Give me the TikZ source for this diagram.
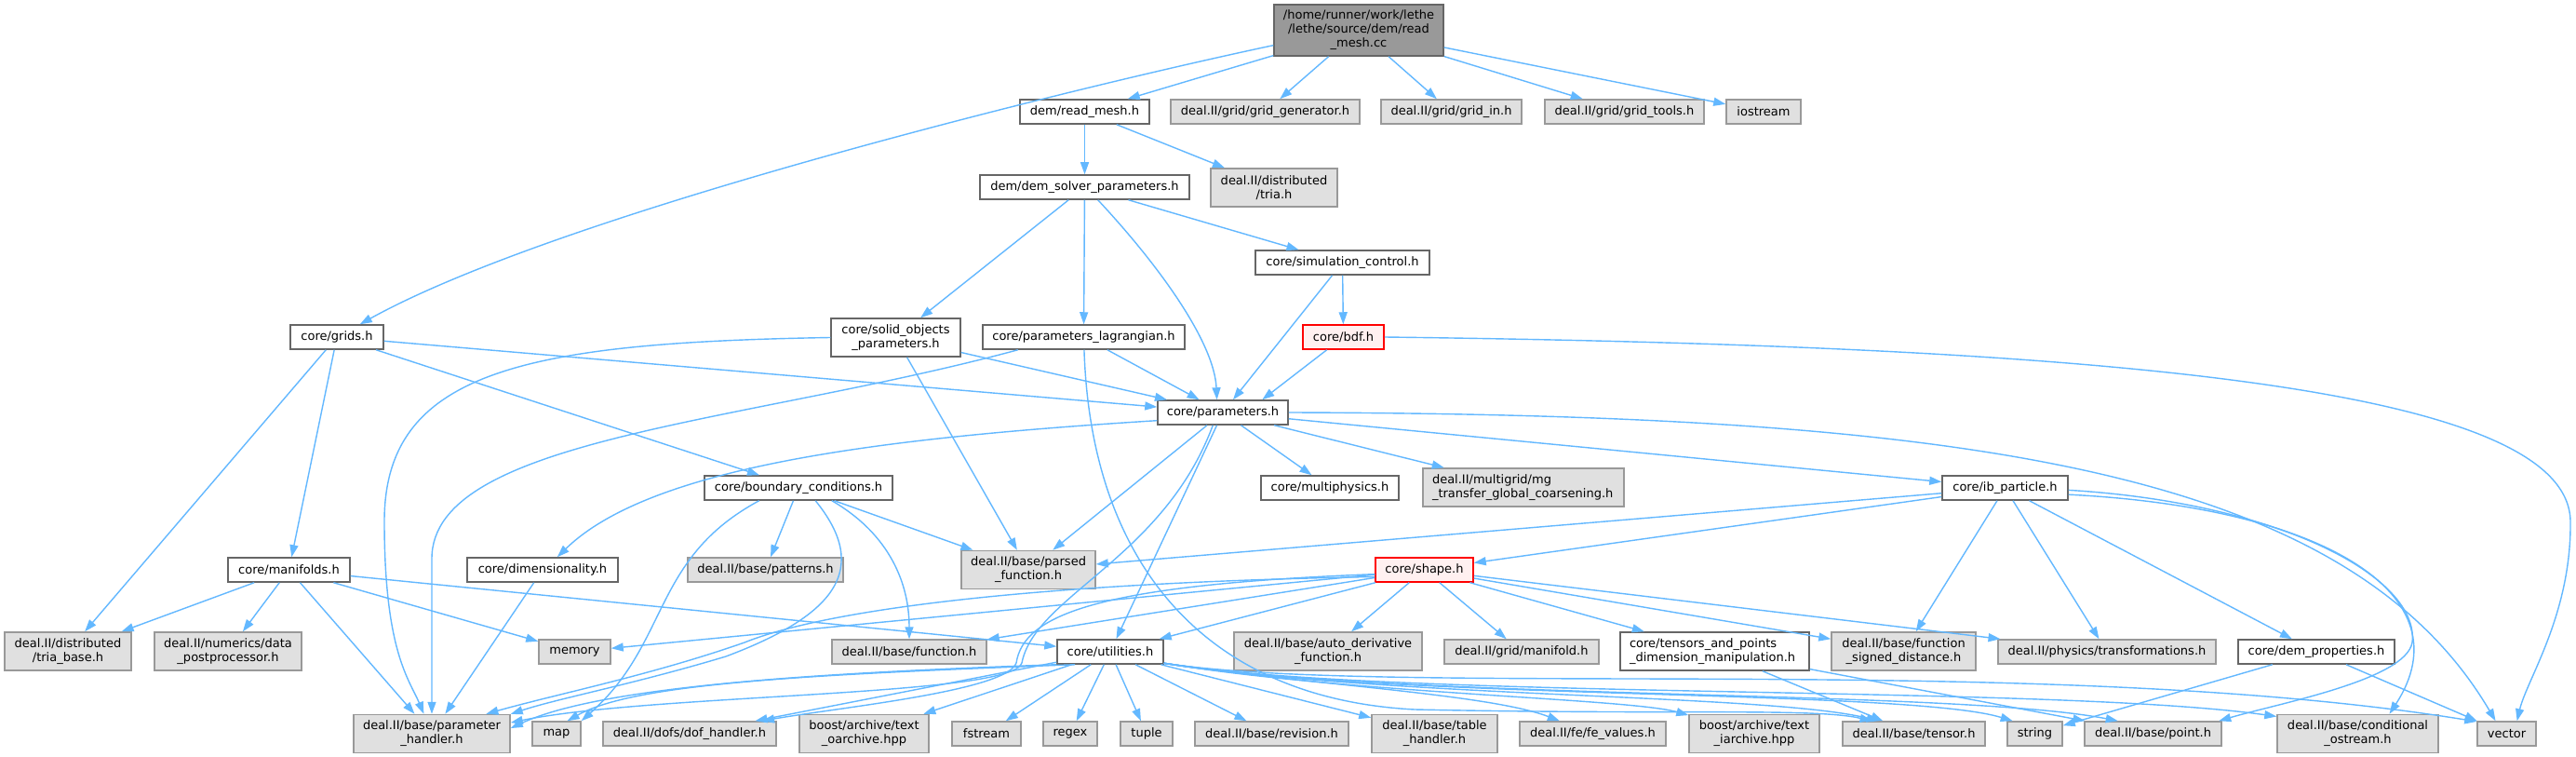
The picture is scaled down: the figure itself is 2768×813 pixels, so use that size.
\documentclass[tikz,border=0pt]{standalone}
\usepackage{fontspec}
\setmainfont{DejaVu Sans}
\usetikzlibrary{arrows.meta}
\definecolor{edgeblue}{HTML}{63B8FF}
\definecolor{gfill}{HTML}{E0E0E0}
\definecolor{gdraw}{HTML}{999999}
\definecolor{wdraw}{HTML}{666666}
\definecolor{rootfill}{HTML}{999999}
\definecolor{redfill}{HTML}{FFF0F0}
\begin{document}
\begin{tikzpicture}[x=1pt,y=-1pt,
  base/.style={rectangle, inner sep=0pt, line width=1.5pt, align=center,
     font=\fontsize{13}{15}\selectfont, minimum height=26pt},
  wbox/.style={base, fill=white, draw=wdraw},
  gbox/.style={base, fill=gfill, draw=gdraw},
  rbox/.style={base, fill=redfill, draw=red},
  rootbox/.style={base, fill=rootfill, draw=wdraw},
  two/.style={minimum height=41pt},
  edge/.style={draw=edgeblue, line width=1.4pt, -{Triangle[length=13pt,width=9pt]}}]
\fill[white] (0,0) rectangle (2768,813);
\useasboundingbox (0,0) rectangle (2768,813);

% row 0
\node[rootbox, minimum width=182pt, minimum height=55pt] (root) at (1460,32.5) {/home/runner/work/lethe\\/lethe/source/dem/read\\\_mesh.cc};
% row 1
\node[wbox, minimum width=139pt] (readmesh) at (1165.5,120) {dem/read\_mesh.h};
\node[gbox, minimum width=203pt] (gridgen) at (1359.5,120) {deal.II/grid/grid\_generator.h};
\node[gbox, minimum width=151pt] (gridin) at (1559.5,120) {deal.II/grid/grid\_in.h};
\node[gbox, minimum width=171pt] (gridtools) at (1745.5,120) {deal.II/grid/grid\_tools.h};
\node[gbox, minimum width=80pt] (iostream) at (1895,120) {iostream};
% row 2
\node[wbox, minimum width=225pt] (demsolver) at (1165.5,201) {dem/dem\_solver\_parameters.h};
\node[gbox, two, minimum width=136pt] (tria) at (1369,201.5) {deal.II/distributed\\/tria.h};
% row 3
\node[wbox, minimum width=187pt] (simctrl) at (1442.5,282) {core/simulation\_control.h};
% row 4
\node[wbox, minimum width=100pt] (grids) at (362,362) {core/grids.h};
\node[wbox, two, minimum width=139pt] (solidobj) at (962.5,362.5) {core/solid\_objects\\\_parameters.h};
\node[wbox, minimum width=217pt] (paramlag) at (1164.5,362) {core/parameters\_lagrangian.h};
\node[rbox, minimum width=87pt] (bdf) at (1443.5,362) {core/bdf.h};
% row 5
\node[wbox, minimum width=140pt] (parameters) at (1314,443) {core/parameters.h};
% row 6
\node[wbox, minimum width=202pt] (bc) at (858,524) {core/boundary\_conditions.h};
\node[wbox, minimum width=148pt] (multiphysics) at (1429,524) {core/multiphysics.h};
\node[gbox, two, minimum width=216pt, text width=196pt, align=left] (mgtransfer) at (1637,523.5) {deal.II/multigrid/mg\\\_transfer\_global\_coarsening.h};
\node[wbox, minimum width=135pt] (ib) at (2154.5,524) {core/ib\_particle.h};
% row 7
\node[wbox, minimum width=131pt] (manifolds) at (310.5,612) {core/manifolds.h};
\node[wbox, minimum width=162pt] (dimensionality) at (583,612) {core/dimensionality.h};
\node[gbox, minimum width=167pt] (patterns) at (822.5,612) {deal.II/base/patterns.h};
\node[gbox, two, minimum width=144pt] (parsed) at (1105,612) {deal.II/base/parsed\\\_function.h};
\node[rbox, minimum width=105pt] (shape) at (1530.5,612) {core/shape.h};
% row 8
\node[gbox, two, minimum width=136pt] (triabase) at (73,699.5) {deal.II/distributed\\/tria\_base.h};
\node[gbox, two, minimum width=158pt] (datapost) at (245,699.5) {deal.II/numerics/data\\\_postprocessor.h};
\node[gbox, minimum width=77pt] (memory) at (617.5,700) {memory};
\node[gbox, minimum width=166pt] (function) at (977,700) {deal.II/base/function.h};
\node[wbox, minimum width=114pt] (utilities) at (1193,700) {core/utilities.h};
\node[gbox, two, minimum width=202pt] (autoderiv) at (1427,699.5) {deal.II/base/auto\_derivative\\\_function.h};
\node[gbox, minimum width=166pt] (manifold) at (1635,700) {deal.II/grid/manifold.h};
\node[wbox, two, minimum width=203pt, text width=183pt, align=left] (tensorspts) at (1842.5,699.5) {core/tensors\_and\_points\\\_dimension\_manipulation.h};
\node[gbox, two, minimum width=155pt] (fsd) at (2045.5,699.5) {deal.II/base/function\\\_signed\_distance.h};
\node[gbox, minimum width=234pt] (transformations) at (2264,700) {deal.II/physics/transformations.h};
\node[wbox, minimum width=168pt] (demprops) at (2489,700) {core/dem\_properties.h};
% row 9
\node[gbox, two, minimum width=168pt] (PH) at (464,788) {deal.II/base/parameter\\\_handler.h};
\node[gbox, minimum width=52pt] (map) at (598,788) {map};
\node[gbox, minimum width=186pt] (dofh) at (741,788) {deal.II/dofs/dof\_handler.h};
\node[gbox, two, minimum width=139pt] (textoarch) at (928.5,788) {boost/archive/text\\\_oarchive.hpp};
\node[gbox, minimum width=74pt] (fstream) at (1060,788) {fstream};
\node[gbox, minimum width=58pt] (regex) at (1150,788) {regex};
\node[gbox, minimum width=56pt] (tuple) at (1232,788) {tuple};
\node[gbox, minimum width=165pt] (revision) at (1366.5,788) {deal.II/base/revision.h};
\node[gbox, two, minimum width=135pt] (tablehandler) at (1541.5,788) {deal.II/base/table\\\_handler.h};
\node[gbox, minimum width=157pt] (fevalues) at (1711.5,788) {deal.II/fe/fe\_values.h};
\node[gbox, two, minimum width=140pt] (textiarch) at (1885,788) {boost/archive/text\\\_iarchive.hpp};
\node[gbox, minimum width=153pt] (tensor) at (2056.5,788) {deal.II/base/tensor.h};
\node[gbox, minimum width=59pt] (string) at (2186.5,788) {string};
\node[gbox, minimum width=147pt] (point) at (2313.5,788) {deal.II/base/point.h};
\node[gbox, two, minimum width=173pt] (condostream) at (2533.5,788) {deal.II/base/conditional\\\_ostream.h};
\node[gbox, minimum width=63pt] (vector) at (2693.5,788) {vector};

% ---------------- edges ----------------
\draw[edge] (root) -- (readmesh);
\draw[edge] (root) -- (gridgen);
\draw[edge] (root) -- (gridin);
\draw[edge] (root) -- (gridtools);
\draw[edge] (root) -- (iostream);
\draw[edge] (root.190) .. controls (1150,95) and (600,230) .. (grids);

\draw[edge] (readmesh) -- (demsolver);
\draw[edge] (readmesh) -- (tria);

\draw[edge] (demsolver) -- (solidobj);
\draw[edge] (demsolver) -- (paramlag);
\draw[edge] (demsolver) -- (simctrl);
\draw[edge] (demsolver.-44) .. controls (1250,290) and (1305,370) .. (parameters.115);

\draw[edge] (simctrl) -- (bdf);
\draw[edge] (simctrl) -- (parameters);
\draw[edge] (bdf) -- (parameters.18);
\draw[edge] (bdf.east) .. controls (2300,372) and (2760,420) .. (2762,560) .. controls (2763,660) and (2715,730) .. (vector.51);

\draw[edge] (grids) -- (triabase);
\draw[edge] (grids) -- (manifolds);
\draw[edge] (grids) -- (bc);
\draw[edge] (grids) -- (parameters);

\draw[edge] (solidobj.west) .. controls (560,368) and (413,400) .. (413,560) .. controls (413,700) and (440,730) .. (PH.112);
\draw[edge] (solidobj) -- (parsed);
\draw[edge] (solidobj) -- (parameters);

\draw[edge] (paramlag.191) .. controls (800,455) and (464,470) .. (464,600) -- (PH);
\draw[edge] (paramlag) -- (parameters);
\draw[edge] (paramlag) .. controls (1172,600) and (1290,750) .. (1520,762) .. controls (1800,768) and (1950,760) .. (tensor.163);

\draw[edge] (parameters.187) .. controls (950,470) and (700,500) .. (dimensionality.41);
\draw[edge] (parameters) -- (parsed);
\draw[edge] (parameters) -- (multiphysics);
\draw[edge] (parameters) -- (mgtransfer);
\draw[edge] (parameters) -- (ib);
\draw[edge] (parameters) -- (utilities);
\draw[edge] (parameters.-128) .. controls (1250,600) and (1112,640) .. (1098,712) .. controls (1088,748) and (700,745) .. (PH.8);
\draw[edge] (parameters.east) .. controls (2100,445) and (2520,500) .. (vector.131);

\draw[edge] (bc) -- (patterns);
\draw[edge] (bc.-21) .. controls (950,570) and (977,620) .. (function.north);
\draw[edge] (bc) -- (parsed);
\draw[edge] (bc.198) .. controls (700,600) and (720,690) .. (map.north east);
\draw[edge] (bc.-37) .. controls (935,610) and (900,660) .. (780,705) .. controls (680,735) and (600,750) .. (PH.14);

\draw[edge] (manifolds) -- (triabase);
\draw[edge] (manifolds) -- (datapost);
\draw[edge] (manifolds) -- (PH);
\draw[edge] (manifolds) -- (memory);
\draw[edge] (manifolds) -- (utilities);

\draw[edge] (dimensionality) -- (PH);

\draw[edge] (shape) -- (memory);
\draw[edge] (shape) -- (function);
\draw[edge] (shape.188) .. controls (1150,625) and (900,650) .. (800,690) .. controls (700,725) and (600,745) .. (PH.20);
\draw[edge] (shape.185) .. controls (1180,628) and (1100,660) .. (1092,712) .. controls (1082,742) and (900,760) .. (dofh.10);
\draw[edge] (shape) -- (utilities);
\draw[edge] (shape) -- (autoderiv);
\draw[edge] (shape) -- (manifold);
\draw[edge] (shape) -- (tensorspts);
\draw[edge] (shape) -- (fsd);
\draw[edge] (shape) -- (transformations);

\draw[edge] (ib) -- (parsed);
\draw[edge] (ib) -- (shape);
\draw[edge] (ib) -- (fsd);
\draw[edge] (ib) -- (transformations);
\draw[edge] (ib) -- (demprops);
\draw[edge] (ib.-2) .. controls (2450,540) and (2600,620) .. (2592,690) .. controls (2585,730) and (2450,755) .. (point.11);
\draw[edge] (ib.-6) .. controls (2500,545) and (2650,640) .. (condostream.32);

\draw[edge] (demprops) -- (string);
\draw[edge] (demprops) -- (vector);
\draw[edge] (tensorspts) -- (tensor);
\draw[edge] (tensorspts) -- (point);

\draw[edge] (utilities.south west) .. controls (900,722) and (650,735) .. (PH.4);
\draw[edge] (utilities.200) .. controls (850,725) and (680,735) .. (map.50);
\draw[edge] (utilities) -- (dofh);
\draw[edge] (utilities) -- (textoarch);
\draw[edge] (utilities) -- (fstream);
\draw[edge] (utilities) -- (regex);
\draw[edge] (utilities) -- (tuple);
\draw[edge] (utilities) -- (revision);
\draw[edge] (utilities) -- (tablehandler);
\draw[edge] (utilities.-12) .. controls (1400,735) and (1600,745) .. (fevalues);
\draw[edge] (utilities.-12) .. controls (1450,745) and (1750,750) .. (textiarch);
\draw[edge] (utilities.-12) .. controls (1500,750) and (1900,745) .. (tensor.160);
\draw[edge] (utilities.-12) .. controls (1500,752) and (2050,740) .. (string.150);
\draw[edge] (utilities.-12) .. controls (1500,752) and (2100,740) .. (point.160);
\draw[edge] (utilities.-12) .. controls (1500,752) and (2200,735) .. (condostream.168);
\draw[edge] (utilities.-12) .. controls (1500,750) and (2200,700) .. (vector.158);
\end{tikzpicture}
\end{document}
